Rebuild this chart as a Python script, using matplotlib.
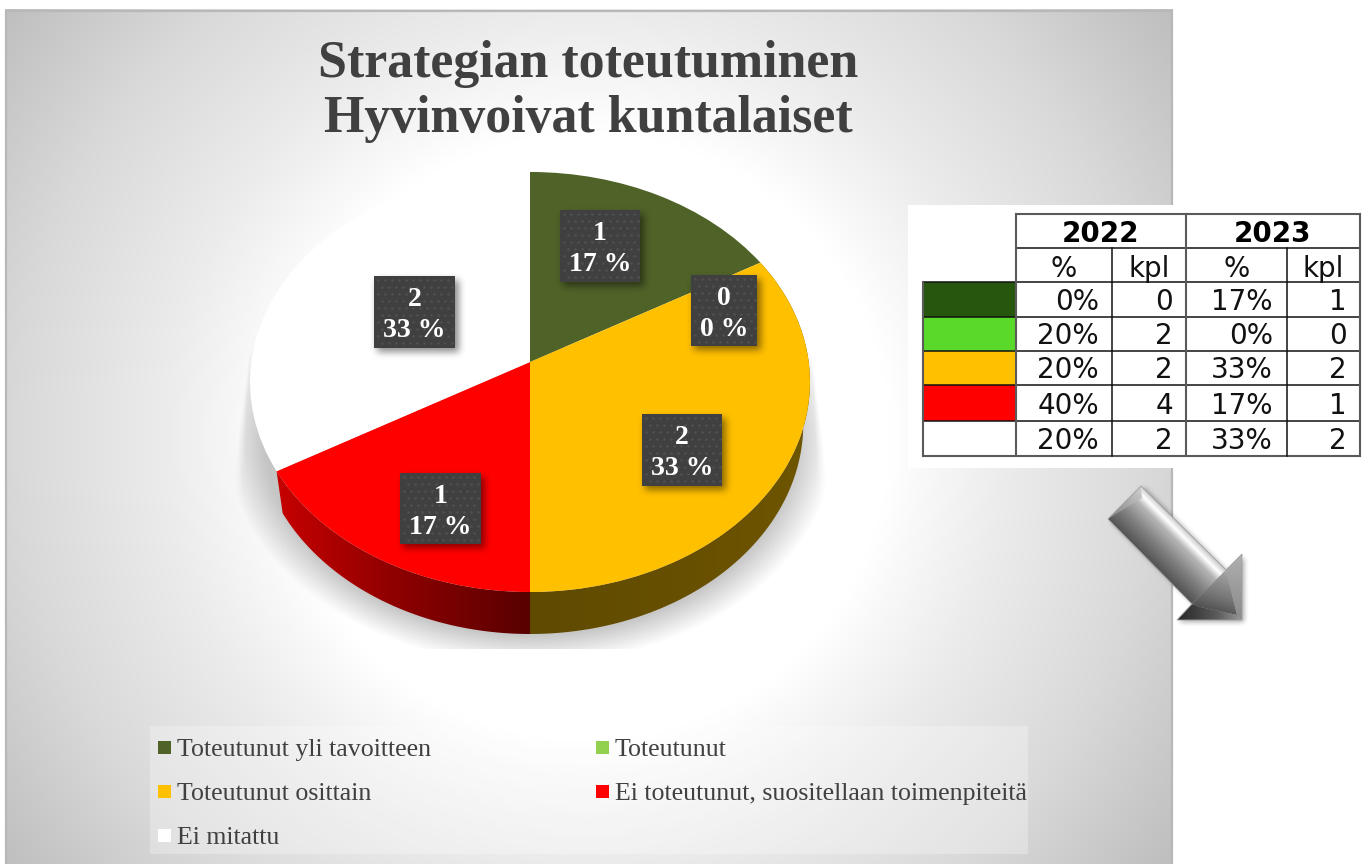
#!/usr/bin/env python3
"""Strategy pie chart with fake 3D rim, a small table and a bevelled arrow."""

import numpy as np
import matplotlib
matplotlib.use("Agg")
import matplotlib.pyplot as plt
from matplotlib.colors import to_rgb
from matplotlib.path import Path
from matplotlib.patches import Polygon, Rectangle
from matplotlib.transforms import Transform

TITLE_LINES = ["Strategian toteutuminen", "Hyvinvoivat kuntalaiset"]

CATEGORIES = ["Toteutunut yli tavoitteen", "Toteutunut", "Toteutunut osittain",
              "Ei toteutunut, suositellaan toimenpiteitä", "Ei mitattu"]
VALUES = [1, 0, 2, 1, 2]
PIE_COLORS = ["#4F6228", "#92D050", "#FFC000", "#FF0000", "#FFFFFF"]

TABLE_YEARS = ["2022", "2023"]
TABLE_SUBHEAD = ["%", "kpl", "%", "kpl"]
PCT_2022 = ["0%", "20%", "20%", "40%", "20%"]
KPL_2022 = ["0", "2", "2", "4", "2"]
PCT_2023 = ["17%", "0%", "33%", "17%", "33%"]
KPL_2023 = ["1", "0", "2", "1", "2"]
TABLE_COLORS = ["#27560F", "#59D92A", "#FFC000", "#FF0000", "#FFFFFF"]

SERIF = "Liberation Serif"
TEXT_COLOR = "#404040"
W, H = 1366, 864
RIM_DROP = 42
RIM_SCALE = 0.976


def tilt(x, y):
    """Unit circle to pixel coords, far edge smaller (perspective)."""
    w = 1 + 0.0952 * y
    return 530 + 278.7 * x / w, 362 - 208.1 * y / w


class TiltTransform(Transform):
    input_dims = 2
    output_dims = 2

    def transform_non_affine(self, values):
        values = np.asarray(values)
        px, py = tilt(values[:, 0], values[:, 1])
        return np.column_stack([px, py])


def gradient_poly(ax, verts, stops, p0, p1, zorder):
    """Fill a polygon with a linear gradient running from p0 to p1."""
    verts = np.asarray(verts, dtype=float)
    x0, y0 = np.floor(verts.min(axis=0)) - 1
    x1, y1 = np.ceil(verts.max(axis=0)) + 1
    xx, yy = np.meshgrid(np.arange(x0, x1 + 1), np.arange(y0, y1 + 1))
    d = np.array(p1, dtype=float) - np.array(p0, dtype=float)
    t = ((xx - p0[0]) * d[0] + (yy - p0[1]) * d[1]) / (d @ d)
    pos = [s[0] for s in stops]
    rgb = np.array([to_rgb(s[1]) for s in stops])
    img = np.dstack([np.interp(t, pos, rgb[:, i]) for i in range(3)])
    im = ax.imshow(img, extent=(x0 - 0.5, x1 + 0.5, y1 + 0.5, y0 - 0.5),
                   interpolation="bilinear", zorder=zorder, aspect="auto")
    im.set_clip_path(Polygon(verts, transform=ax.transData))


def box_blur(a, n):
    k = np.ones(2 * n + 1) / (2 * n + 1)
    for _ in range(3):
        a = np.apply_along_axis(lambda r: np.convolve(r, k, mode="same"), 0, a)
        a = np.apply_along_axis(lambda r: np.convolve(r, k, mode="same"), 1, a)
    return a


def soft_shadow(ax, verts, dx, dy, blur, alpha, zorder):
    verts = np.asarray(verts, dtype=float) + [dx, dy]
    pad = 3 * blur + 2
    x0, y0 = np.floor(verts.min(axis=0)) - pad
    x1, y1 = np.ceil(verts.max(axis=0)) + pad
    xx, yy = np.meshgrid(np.arange(x0, x1 + 1), np.arange(y0, y1 + 1))
    mask = Path(verts).contains_points(np.column_stack([xx.ravel(), yy.ravel()]))
    a = box_blur(mask.reshape(xx.shape).astype(float), blur) * alpha
    img = np.zeros(a.shape + (4,))
    img[..., 3] = a
    ax.imshow(img, extent=(x0 - 0.5, x1 + 0.5, y1 + 0.5, y0 - 0.5),
              interpolation="bilinear", zorder=zorder, aspect="auto")


def draw_background(ax):
    xx, yy = np.meshgrid(np.arange(5, 1173), np.arange(10, 865))
    r = np.hypot(xx - 585, yy - 437)
    g = np.interp(r, [0, 305, 340, 420, 570, 725], [1.0, 1.0, 0.975, 0.925, 0.85, 0.745])
    ax.imshow(np.dstack([g, g, g]), extent=(5, 1173, 864.5, 9.5), zorder=0, aspect="auto")
    ax.add_patch(Rectangle((5.5, 10.5), 1166, 860, fill=False, ec="#b8b8b8", lw=1.6, zorder=0.5))


def draw_pie_shadow(ax):
    xx, yy = np.meshgrid(np.arange(225, 840), np.arange(345, 650))
    dx = np.abs(xx - 530)
    r = np.hypot(dx / 305, (yy - 440) / 225)
    # lower blur follows the ellipse, the sides are straight and get softer going down
    a = np.clip((1 - r) / 0.13, 0, 1)
    half_w = 282 + (yy - 360) * 0.135
    a *= np.clip((half_w - dx) / (1 + (yy - 360) / 12), 0, 1)
    img = np.zeros(a.shape + (4,))
    img[..., 3] = a * 0.22
    ax.imshow(img, extent=(225, 840, 649.5, 344.5), zorder=1,
              interpolation="bilinear", aspect="auto")


def draw_walls(ax, wedges):
    styles = {2: [(0, "#5F4A00"), (0.5, "#664F00"), (1, "#6E5500")],
              3: [(0, "#C60000"), (0.45, "#900000"), (1, "#580000")]}
    for i, stops in styles.items():
        th = np.radians(np.linspace(wedges[i].theta1, wedges[i].theta2, 150))
        px, py = tilt(np.cos(th), np.sin(th))
        lx = 530 + RIM_SCALE * (px - 530)
        ly = py + RIM_DROP
        verts = np.column_stack([np.r_[px, lx[::-1]], np.r_[py, ly[::-1]]])
        p0, p1 = ((278, 0), (530, 0)) if i == 3 else ((530, 0), (810, 0))
        gradient_poly(ax, verts, stops, p0, p1, 2)


def draw_labels(ax):
    boxes = {0: (560, 210, 640, 282), 1: (691, 275, 757, 346), 2: (642, 414, 722, 486),
             3: (400, 473, 481, 544), 4: (374, 276, 455, 348)}
    total = sum(VALUES)
    for i, (x0, y0, x1, y1) in boxes.items():
        corners = [(x0, y0), (x1, y0), (x1, y1), (x0, y1)]
        soft_shadow(ax, corners, 3, 4, 3, 0.45, 4)
        ax.add_patch(Rectangle((x0, y0), x1 - x0, y1 - y0, fc="#404040", ec="none", zorder=5))
        gx, gy = np.meshgrid(np.arange(x0 + 4, x1 - 1, 7.0), np.arange(y0 + 4, y1 - 1, 7.0))
        gx[1::2] += 3.5
        ax.scatter(gx.ravel(), gy.ravel(), s=3.5, c="#505050", linewidths=0, zorder=6)
        cx = (x0 + x1) / 2
        ax.text(cx, y0 + 30, str(VALUES[i]), color="white", fontsize=20, family=SERIF,
                weight="bold", ha="center", va="baseline", zorder=7)
        ax.text(cx, y0 + 61, f"{round(100 * VALUES[i] / total)} %", color="white", fontsize=20,
                family=SERIF, weight="bold", ha="center", va="baseline", zorder=7)


def draw_legend(ax):
    ax.add_patch(Rectangle((150, 726), 878, 128, fc="white", alpha=0.28, ec="none", zorder=2))
    slots = [(158, 741), (596, 741), (158, 785), (596, 785), (158, 829)]
    for (x, y), label, color in zip(slots, CATEGORIES, PIE_COLORS):
        ax.add_patch(Rectangle((x, y), 13, 13, fc=color, ec="none", zorder=3))
        ax.text(x + 19, y + 15, label, fontsize=18.6, family=SERIF, color=TEXT_COLOR,
                ha="left", va="baseline", zorder=3)


def draw_table(ax):
    ax.add_patch(Rectangle((908, 205), 458, 263, fc="white", ec="none", zorder=3))
    xs = [923, 1016, 1112, 1186, 1287, 1360]
    ys = [214, 248, 282, 317, 351, 385, 421, 456]
    inner = dict(color="#111111", lw=1.1, zorder=5)
    outer = dict(color="#5A5A5A", lw=1.5, zorder=5)
    for y in ys[2:-1]:
        ax.plot([xs[0], xs[-1]], [y, y], **inner)
    ax.plot([xs[1], xs[-1]], [ys[1], ys[1]], **inner)
    ax.plot([xs[1], xs[-1]], [ys[0], ys[0]], **outer)
    ax.plot([xs[0], xs[-1]], [ys[-1], ys[-1]], **outer)
    ax.plot([xs[0], xs[0]], [ys[2], ys[-1]], **outer)
    for x in (xs[1], xs[3], xs[5]):
        ax.plot([x, x], [ys[0], ys[-1]], **outer)
    for x in (xs[2], xs[4]):
        ax.plot([x, x], [ys[1], ys[-1]], **inner)

    for c, year in enumerate(TABLE_YEARS):
        ax.text((xs[1 + 2 * c] + xs[3 + 2 * c]) / 2, 242, year, fontsize=20, weight="bold",
                color="black", ha="center", va="baseline", zorder=6)
    for c, head in enumerate(TABLE_SUBHEAD):
        ax.text((xs[1 + c] + xs[2 + c]) / 2, 277, head, fontsize=20, color="#111111",
                ha="center", va="baseline", zorder=6)

    rights = [1099, 1173, 1273, 1347]
    columns = [PCT_2022, KPL_2022, PCT_2023, KPL_2023]
    for r, color in enumerate(TABLE_COLORS):
        ax.add_patch(Rectangle((xs[0], ys[2 + r]), xs[1] - xs[0], ys[3 + r] - ys[2 + r],
                               fc=color, ec="none", zorder=4))
        ym = (ys[2 + r] + ys[3 + r]) / 2 + 10.5
        for right, col in zip(rights, columns):
            ax.text(right, ym, col[r], fontsize=20, color="#111111", ha="right", va="baseline", zorder=6)


def draw_arrow(ax):
    outline = [(1141, 486), (1108, 519), (1192, 604), (1177, 620), (1242, 620), (1242, 554), (1226, 570)]
    soft_shadow(ax, outline, 2, 2, 2, 0.35, 6)
    # shaft, bright band near the upper edge
    gradient_poly(ax, [(1141, 486), (1108, 519), (1192, 604), (1226, 570)],
                  [(0, "#555555"), (0.35, "#808080"), (0.7, "#B5B5B5"), (0.86, "#FFFFFF"), (1, "#C8C8C8")],
                  (1108, 519), (1141, 486), 7)
    # tail facet
    gradient_poly(ax, [(1141, 486), (1108, 519), (1142, 498)],
                  [(0, "#8C8C8C"), (1, "#CFCFCF")], (1115, 515), (1141, 488), 8)
    # head: centre, right facet, bottom facet
    gradient_poly(ax, [(1226, 570), (1192, 604), (1200, 607), (1237, 615)],
                  [(0, "#A8A8A8"), (0.6, "#787878"), (1, "#505050")], (1226, 570), (1212, 612), 7.5)
    gradient_poly(ax, [(1242, 554), (1242, 620), (1237, 615), (1226, 570)],
                  [(0, "#B0B0B0"), (1, "#8A8A8A")], (1242, 554), (1238, 620), 8)
    gradient_poly(ax, [(1192, 604), (1177, 620), (1242, 620), (1237, 615), (1200, 607)],
                  [(0, "#262626"), (0.6, "#5A5A5A"), (1, "#9A9A9A")], (1177, 620), (1242, 620), 8)
    ax.add_patch(Polygon(outline, closed=True, fill=False, ec="#A0A0A0", lw=0.6, zorder=9))


def main():
    fig = plt.figure(figsize=(W / 100, H / 100), dpi=100, facecolor="white")
    ax = fig.add_axes([0, 0, 1, 1])

    wedges, _ = ax.pie(VALUES, colors=PIE_COLORS, startangle=90, counterclock=False, radius=1)
    tilt_tr = TiltTransform() + ax.transData
    for w in wedges:
        w.set_transform(tilt_tr)
        w.set_zorder(3)
        w.set_edgecolor("none")

    draw_background(ax)
    draw_pie_shadow(ax)
    draw_walls(ax, wedges)
    draw_labels(ax)
    draw_legend(ax)
    draw_table(ax)
    draw_arrow(ax)

    for line, base in zip(TITLE_LINES, (77, 132)):
        ax.text(588, base, line, fontsize=37.4, family=SERIF, weight="bold", color=TEXT_COLOR,
                ha="center", va="baseline", zorder=3)

    ax.set_aspect("auto")
    ax.set_xlim(0, W)
    ax.set_ylim(H, 0)
    ax.axis("off")
    fig.savefig("out.png", dpi=100)


if __name__ == "__main__":
    main()
